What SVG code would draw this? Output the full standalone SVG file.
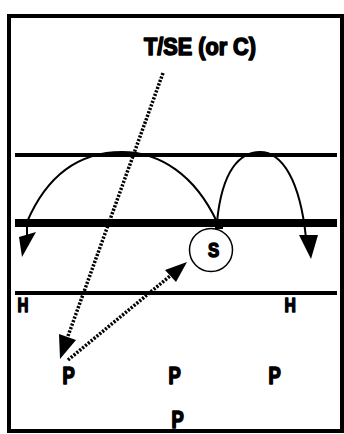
<svg xmlns="http://www.w3.org/2000/svg" width="344" height="434" viewBox="0 0 344 434">
<style>
.lbl{font-family:"Liberation Sans",Arial,sans-serif;font-weight:bold;fill:#000;stroke:#000;stroke-width:1.6;stroke-linejoin:round}
.arc{fill:none;stroke:#000;stroke-width:2}
.dot{fill:none;stroke:#000;stroke-width:3.5;stroke-dasharray:2.2 1.5}
.head{fill:#000;stroke:none}
</style>
<rect x="0" y="0" width="344" height="434" fill="#fff"/>
<rect x="9" y="16" width="333" height="415" fill="none" stroke="#000" stroke-width="4"/>
<g id="lines">
<line x1="15" y1="155" x2="337" y2="155" stroke="#000" stroke-width="4"/>
<line x1="15" y1="223" x2="337" y2="223" stroke="#000" stroke-width="8"/>
<line x1="15" y1="293" x2="337" y2="293" stroke="#000" stroke-width="4"/>
</g>
<g id="connectors">
<path class="arc" d="M27,236 L27,222 C45,180 75,152 122,152 C160,152 195,175 217,222 L217,229"/>
<path class="arc" d="M217,222 C222,170 240,152 260,152 C282,152 300,180 306,238"/>
<path class="arc" d="M215,228 L223,228" stroke-width="1.5"/>
<polygon class="head" points="19,237 36,232 22,257"/>
<polygon class="head" points="299,235 318,235 311,259"/>
<path class="dot" d="M163,73 L68,336"/>
<polygon class="head" points="59,334 76,340 60,359"/>
<path class="dot" d="M68,360 L170,276"/>
<polygon class="head" points="165,270 176,282 187,262"/>
</g>
<g id="tse"><text class="lbl" x="144" y="55" font-size="24" textLength="112" lengthAdjust="spacingAndGlyphs">T/SE (or C)</text></g>
<g id="s"><circle cx="211" cy="250" r="21.5" fill="#fff" stroke="#000" stroke-width="1.5"/>
<text class="lbl" transform="translate(208,257) scale(0.8,1)" font-size="21">S</text></g>
<g id="h1"><text class="lbl" transform="translate(17.5,312) scale(0.72,1)" font-size="21">H</text></g>
<g id="h2"><text class="lbl" transform="translate(284.5,312) scale(0.75,1)" font-size="21">H</text></g>
<g id="p1"><text class="lbl" transform="translate(62.5,384) scale(0.8,1)" font-size="23">P</text></g>
<g id="p2"><text class="lbl" transform="translate(168.5,384) scale(0.8,1)" font-size="23">P</text></g>
<g id="p3"><text class="lbl" transform="translate(268.5,384) scale(0.8,1)" font-size="23">P</text></g>
<g id="p4"><text class="lbl" transform="translate(171.5,428) scale(0.8,1)" font-size="23">P</text></g>
</svg>
